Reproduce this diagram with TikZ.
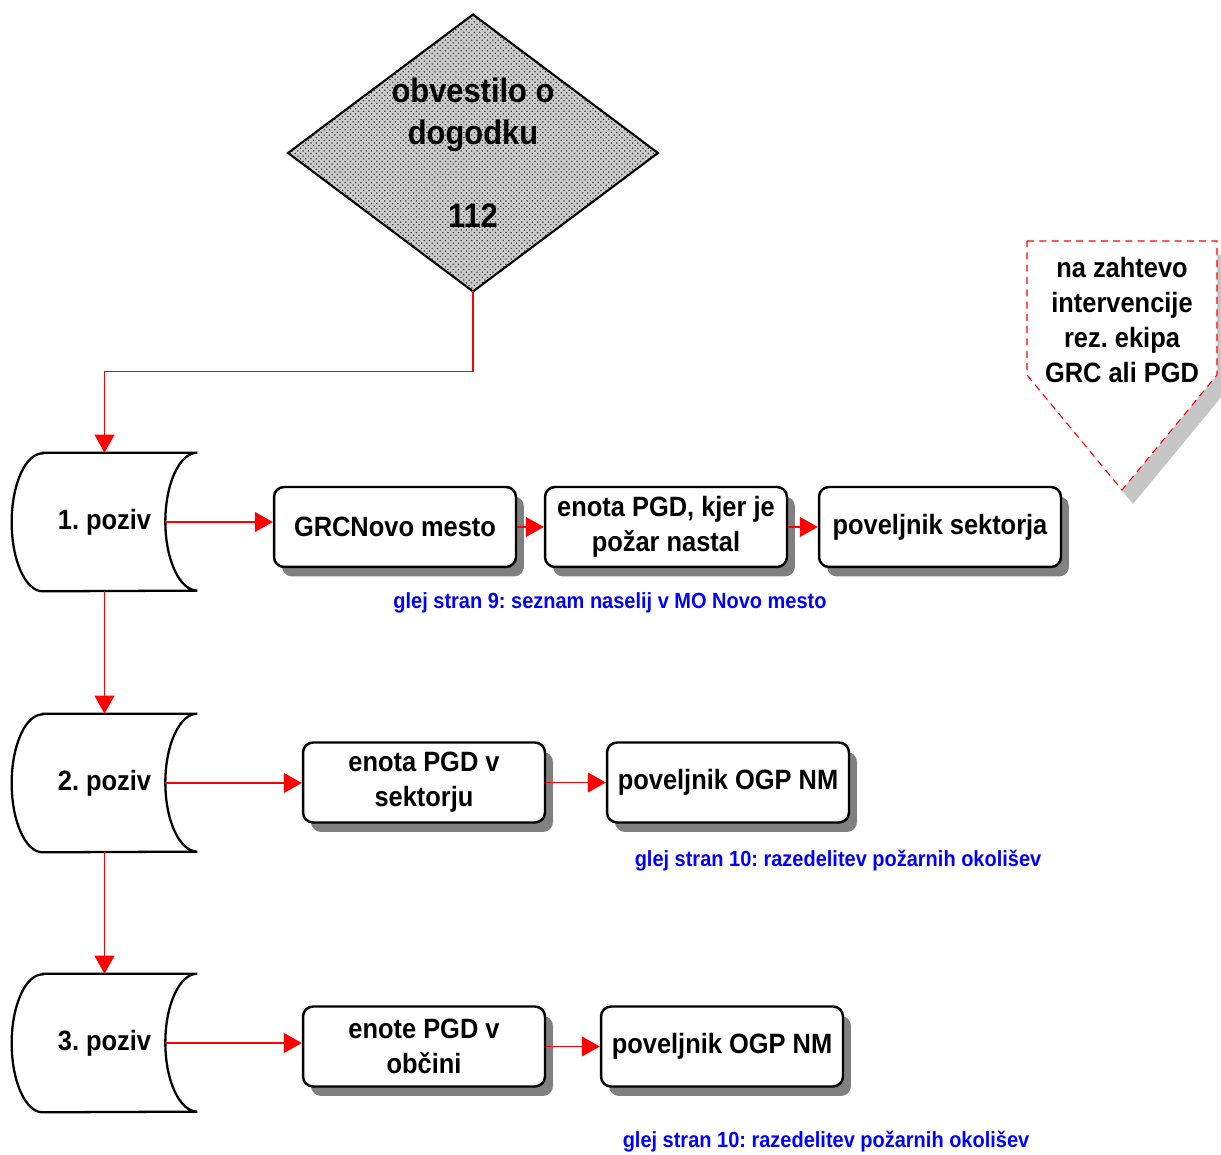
\documentclass[tikz,border=0pt]{standalone}
\usepackage{fontspec}
\setmainfont{Liberation Sans}[FakeStretch=0.91]
\usetikzlibrary{positioning,arrows.meta,shapes.geometric,shadows,patterns}
\frenchspacing

\begin{document}
\begin{tikzpicture}[
  x=0.02cm, y=0.02cm,
  box/.style={rectangle, rounded corners=2mm, draw=black, line width=1.4pt, fill=white,
              align=center, minimum width=4.84cm, minimum height=1.6cm, inner sep=0pt,
              font=\fontsize{15.9pt}{19.8pt}\selectfont\bfseries,
              drop shadow={shadow xshift=1.6mm, shadow yshift=-1.9mm, fill=black!50, opacity=1}},
  poziv/.style={rectangle, minimum width=3.7cm, minimum height=2.76cm, inner sep=0pt,
                font=\fontsize{15.9pt}{19.8pt}\selectfont\bfseries},
  pozivline/.style={draw=black, line width=1.3pt},
  dec/.style={diamond, draw=black, line width=1.2pt, minimum width=7.4cm, minimum height=5.54cm,
              inner sep=0pt, outer sep=0pt, preaction={fill=gray!40}, pattern=crosshatch dots,
              pattern color=black!75},
  note/.style={text=blue, font=\fontsize{12.5pt}{15pt}\selectfont\bfseries},
  arrow/.style={-{Triangle[length=3.6mm, width=4mm]}, draw=red, line width=0.6pt}
]
\useasboundingbox (0,0) rectangle (1221,1155);

% obvestilo
\node[dec] (obv) at (473,1002) {};
\node[align=center, font=\fontsize{19.3pt}{23.8pt}\selectfont\bfseries] (obvt) at (obv.center)
  {obvestilo o\\dogodku\\\mbox{}\\112};

% na zahtevo (offpage)
\fill[gray!45] (1038,900) -- (1228,900) -- (1228,766) -- (1133,651) -- (1038,766) -- cycle;
\draw[red, line width=0.6pt, dash pattern=on 4pt off 3pt, fill=white]
  (1027,914) -- (1217,914) -- (1217,780) -- (1122,665) -- (1027,780) -- cycle;
\node[align=center, font=\fontsize{15.9pt}{19.8pt}\selectfont\bfseries] (zaht) at (1122,835)
  {na zahtevo\\intervencije\\rez. ekipa\\GRC ali PGD};

% pozivi
\node[poziv] (p1) at (104.5,633) {1. poziv};
\node[poziv] (p2) at (104.5,372) {2. poziv};
\node[poziv] (p3) at (104.5,112) {3. poziv};
\foreach \p in {p1,p2,p3} {
  \draw[pozivline] ([xshift=6.2mm]\p.north west) -- (\p.north east)
    arc[start angle=90, end angle=270, x radius=6.4mm, y radius=13.8mm]
    -- ([xshift=6.2mm]\p.south west)
    arc[start angle=270, end angle=90, x radius=6.2mm, y radius=13.8mm] -- cycle;
  \coordinate (\p r) at ([xshift=-6.4mm]\p.east);
}

% enote
\node[box] (b11) at (395,628) {GRCNovo mesto};
\node[box] (b12) at (666,628) {enota PGD, kjer je\\požar nastal};
\node[box] (b13) at (940,628) {poveljnik sektorja};
\node[box] (b21) at (424,372.5) {enota PGD v\\sektorju};
\node[box] (b22) at (728,372.5) {poveljnik OGP NM};
\node[box] (b31) at (424,108.5) {enote PGD v\\občini};
\node[box] (b32) at (722,108.5) {poveljnik OGP NM};

\node[note] (n1) at (610,552) {glej stran 9: seznam naselij v MO Novo mesto};
\node[note] (n2) at (838,294) {glej stran 10: razedelitev požarnih okolišev};
\node[note] (n3) at (826,13) {glej stran 10: razedelitev požarnih okolišev};

\draw[arrow] (obv.south) -- ++(0,-80) -| (p1.north);
\draw[arrow] (p1.south) -- (p2.north);
\draw[arrow] (p2.south) -- (p3.north);
\draw[arrow] (p1r) -- (p1r -| b11.west);
\draw[arrow] (p2r) -- (p2r -| b21.west);
\draw[arrow] (p3r) -- (p3r -| b31.west);
\draw[arrow] (b11) -- (b12);
\draw[arrow] (b12) -- (b13);
\draw[arrow] (b21) -- (b22);
\draw[arrow] (b31) -- (b32);
\end{tikzpicture}
\end{document}
